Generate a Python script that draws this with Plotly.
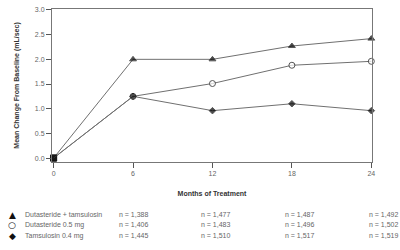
import plotly.graph_objects as go

months = [0, 6, 12, 18, 24]
series_names = ["Dutasteride + tamsulosin", "Dutasteride 0.5 mg", "Tamsulosin 0.4 mg"]
combo = [0.0, 2.0, 2.0, 2.27, 2.42]
dut = [0.0, 1.25, 1.51, 1.88, 1.96]
tam = [0.0, 1.25, 0.96, 1.10, 0.96]
n_combo = ["1,388", "1,477", "1,487", "1,492"]
n_dut = ["1,406", "1,483", "1,496", "1,502"]
n_tam = ["1,445", "1,510", "1,517", "1,519"]
y_ticks = [0.0, 0.5, 1.0, 1.5, 2.0, 2.5, 3.0]

fig = go.Figure()
styles = [
    (combo, "triangle-up", "black", 6),
    (dut, "circle", "white", 6),
    (tam, "diamond", "black", 5),
]
for vals, sym, fill, sz in styles:
    fig.add_trace(go.Scatter(
        x=months, y=vals, mode="lines+markers",
        line=dict(color="#707070", width=1),
        marker=dict(symbol=["square"] + [sym] * (len(vals) - 1),
                    size=[6] + [sz] * (len(vals) - 1),
                    color=["#111"] + [fill] * (len(vals) - 1),
                    line=dict(color="#111", width=1)),
        showlegend=False, cliponaxis=False,
    ))

font_txt = dict(family="Liberation Sans Narrow, Arial Narrow, Liberation Sans", size=7, color="#666")

L, R, T, B = 52, 372, 6, 162
fig.update_layout(
    width=400, height=250,
    margin=dict(l=L, r=400 - R, t=T, b=250 - B),
    paper_bgcolor="white", plot_bgcolor="white",
    xaxis=dict(range=[-0.12, 24.05], tickvals=months, ticktext=[str(m) for m in months],
               ticks="outside", ticklen=5, tickcolor="#555", showgrid=False, zeroline=False,
               showline=True, linecolor="#777", linewidth=1, mirror=True,
               tickfont=font_txt,
               title=dict(text="<b>Months of Treatment</b>", font=dict(family="Liberation Sans Narrow, Liberation Sans", size=7, color="#333"), standoff=14)),
    yaxis=dict(range=[-0.08, 3.02], tickvals=y_ticks, ticktext=[f"{v:.1f}" for v in y_ticks],
               ticks="outside", ticklen=5, tickcolor="#555", showgrid=False, zeroline=False,
               showline=True, linecolor="#777", linewidth=1, mirror=True,
               tickfont=font_txt,
               title=dict(text="<b>Mean Change From Baseline (mL/sec)</b>", font=dict(family="Liberation Sans Narrow, Liberation Sans", size=7, color="#333"), standoff=14)),
)

def px_x(px):
    return (px - L) / (R - L)

def px_y(py):
    return (B - py) / (B - T)

symbols_txt = ["▲", "○", "◆"]
n_rows = [n_combo, n_dut, n_tam]
row_y = [216, 226, 237]
col_x = [117, 199, 283, 367]
for i in range(3):
    yp = px_y(row_y[i])
    fig.add_annotation(x=px_x(12), y=yp, xref="paper", yref="paper", text=symbols_txt[i],
                       showarrow=False, xanchor="center", yanchor="middle",
                       font=dict(family="DejaVu Sans", size=9, color="#111"))
    fig.add_annotation(x=px_x(23), y=yp, xref="paper", yref="paper", text=series_names[i],
                       showarrow=False, xanchor="left", yanchor="middle", font=font_txt)
    for j, nv in enumerate(n_rows[i]):
        fig.add_annotation(x=px_x(col_x[j]), y=yp, xref="paper", yref="paper", text=f"n = {nv}",
                           showarrow=False, xanchor="left", yanchor="middle", font=font_txt)

fig.write_html("out.html")
